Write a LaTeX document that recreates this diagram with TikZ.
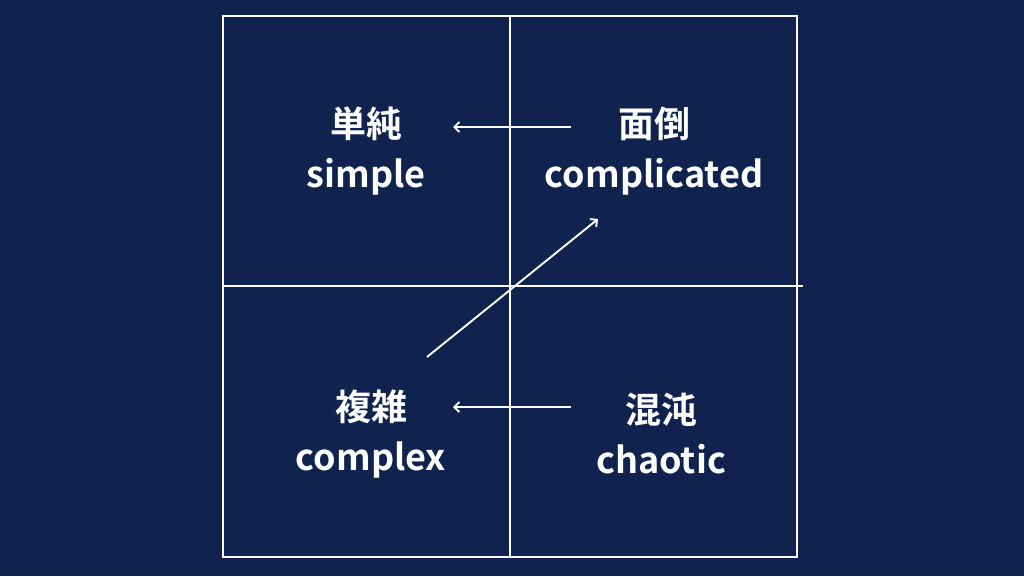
\documentclass[tikz,border=0pt]{standalone}
\usepackage{fontspec}
\setmainfont{Noto Sans CJK JP}[BoldFont={* Bold}]
\usepackage{tikz}
\usetikzlibrary{arrows.meta,positioning,calc}
\definecolor{navybg}{RGB}{16,35,79}
\tikzset{
  gridline/.style={draw=white, line width=2.4pt},
  label/.style={
    text=white,
    font=\fontsize{36}{50}\selectfont\bfseries,
    align=center,
    inner sep=0pt
  },
  arrow/.style={-{Straight Barb[length=5pt,width=10pt]}, white, line width=1.9pt}
}

\begin{document}
\begin{tikzpicture}[x=1pt,y=-1pt]
  \fill[navybg] (0,0) rectangle (1024,576);
  \useasboundingbox (0,0) rectangle (1024,576);

  % the four quadrants
  \draw[gridline] (223,16) rectangle (797,557);
  \draw[gridline] (510,16) -- (510,557);
  \draw[gridline] (223,286) -- (803,286);

  \node[label] (simple) at (366,151) {単純\\simple};
  \node[label] (compl) at (654,151) {面倒\\complicated};
  \node[label] (complex) at (371,434) {複雑\\complex};
  \node[label] (chaos) at (661,434) {混沌\\chaotic};

  \coordinate (c1) at (571,127);
  \coordinate (s1) at (453,127);
  \coordinate (c2) at (571,407);
  \coordinate (s2) at (453,407);
  \coordinate (d1) at (427,357);
  \coordinate (d2) at (598,219);

  \draw[arrow] (c1) -- (s1);
  \draw[arrow] (c2) -- (s2);
  \draw[arrow] (d1) -- (d2);
\end{tikzpicture}
\end{document}
